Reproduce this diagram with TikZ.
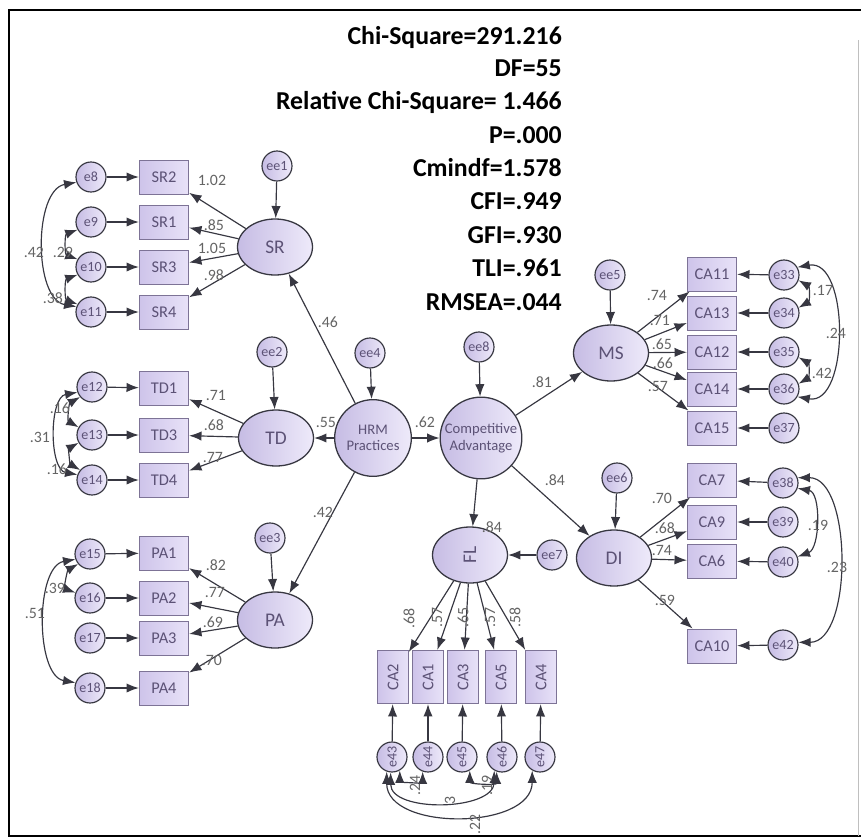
\documentclass[tikz,border=0pt]{standalone}
\usepackage{fontspec}
\setmainfont{Carlito}
\usepackage{tikz}
\usetikzlibrary{arrows.meta,shapes.geometric}

\definecolor{nodeL}{RGB}{198,188,228}
\definecolor{nodeR}{RGB}{238,234,250}
\definecolor{boxL}{RGB}{206,196,234}
\definecolor{boxR}{RGB}{232,226,248}
\definecolor{edgecol}{RGB}{55,55,65}
\definecolor{boxedge}{RGB}{125,115,150}
\definecolor{txtcol}{RGB}{92,82,118}
\definecolor{lblcol}{RGB}{100,100,100}

\tikzset{
  latent/.style={ellipse, draw=edgecol, line width=1.1pt, left color=nodeL, right color=nodeR,
    minimum width=2.25cm, minimum height=1.68cm, inner sep=0pt, text=txtcol,
    font=\fontsize{16.5}{17}\selectfont},
  bigc/.style={circle, draw=edgecol, line width=1.1pt, left color=nodeL, right color=nodeR,
    inner sep=0pt, align=center, text=txtcol, font=\fontsize{12.5}{14}\selectfont},
  errc/.style={circle, draw=edgecol, line width=1pt, left color=nodeL, right color=nodeR,
    minimum size=0.9cm, inner sep=0pt, text=txtcol, font=\fontsize{12}{12}\selectfont},
  item/.style={rectangle, draw=boxedge, line width=0.8pt, left color=boxL, right color=boxR,
    minimum width=1.48cm, minimum height=1.02cm, inner sep=0pt, text=txtcol,
    font=\fontsize{14}{14}\selectfont},
  load/.style={draw=edgecol, line width=1pt, -{Latex[length=0.37cm,width=0.28cm]}},
  cov/.style={draw=edgecol, line width=1pt, {Latex[length=0.37cm,width=0.28cm]}-{Latex[length=0.37cm,width=0.28cm]}},
  coef/.style={text=lblcol, inner sep=0pt, font=\fontsize{13.5}{14}\selectfont},
  statline/.style={anchor=east, inner sep=0pt, font=\bfseries\fontsize{22}{23}\selectfont}
}

\begin{document}
\begin{tikzpicture}[x=0.03cm,y=-0.03cm]
\useasboundingbox (0,0) rectangle (861,838);
\draw[line width=2.4pt] (861,10) -- (9,10) -- (9,836) -- (861,836);
\draw[line width=0.6pt, black!25] (858,40) -- (858,836);

% fit indices
\node[statline] (chi) at (562,37) {Chi-Square=291.216};
\node[statline] (df) at (562,68) {DF=55};
\node[statline] (rel) at (562,102) {Relative Chi-Square= 1.466};
\node[statline] (pval) at (562,135) {P=.000};
\node[statline] (cmin) at (562,168) {Cmindf=1.578};
\node[statline] (cfi) at (562,201) {CFI=.949};
\node[statline] (gfi) at (562,235) {GFI=.930};
\node[statline] (tli) at (562,268) {TLI=.961};
\node[statline] (rmsea) at (562,302) {RMSEA=.044};

% SR
\node[latent](SR) at (275,247) {SR};
\node[errc](ee1) at (277,166) {ee1};
\node[item](SR2) at (164,177) {SR2};
\node[item](SR1) at (164,222) {SR1};
\node[item](SR3) at (164,267) {SR3};
\node[item](SR4) at (164,312) {SR4};
\node[errc](e8) at (91,177) {e8};
\node[errc](e9) at (91,222) {e9};
\node[errc](e10) at (91,267) {e10};
\node[errc](e11) at (91,312) {e11};
\draw[load](ee1) to (SR);
\draw[load](SR) to (SR2);
\draw[load](SR) to (SR1);
\draw[load](SR) to (SR3);
\draw[load](SR) to (SR4);
\draw[load](e8) to (SR2);
\draw[load](e9) to (SR1);
\draw[load](e10) to (SR3);
\draw[load](e11) to (SR4);
\draw[cov](e8.200) to[out=190,in=170,looseness=0.9] (e11.160);
\draw[cov](e9.210) to[out=200,in=160,looseness=1.2] (e10.150);
\draw[cov](e10.210) to[out=200,in=160,looseness=1.2] (e11.150);
\node[coef](SR_l1) at (212,180) {1.02};
\node[coef](SR_l2) at (214,225) {.85};
\node[coef](SR_l3) at (212,248) {1.05};
\node[coef](SR_l4) at (214,275) {.98};
\node[coef](SR_c1) at (34,252) {.42};
\node[coef](SR_c2) at (63,252) {.29};
\node[coef](SR_c3) at (53,298) {.38};

% TD
\node[latent](TD) at (276,438) {TD};
\node[errc](ee2) at (272,352) {ee2};
\node[item](TD1) at (164,388) {TD1};
\node[item](TD3) at (164,435) {TD3};
\node[item](TD4) at (164,480) {TD4};
\node[errc](e12) at (92,387) {e12};
\node[errc](e13) at (92,435) {e13};
\node[errc](e14) at (92,480) {e14};
\draw[load](ee2) to (TD);
\draw[load](TD) to (TD1);
\draw[load](TD) to (TD3);
\draw[load](TD) to (TD4);
\draw[load](e12) to (TD1);
\draw[load](e13) to (TD3);
\draw[load](e14) to (TD4);
\draw[cov](e12.200) to[out=190,in=170,looseness=0.9] (e14.160);
\draw[cov](e12.220) to[out=210,in=150,looseness=1.1] (e13.150);
\draw[cov](e13.210) to[out=210,in=150,looseness=1.1] (e14.140);
\node[coef](TD_l1) at (216,395) {.71};
\node[coef](TD_l2) at (214,425) {.68};
\node[coef](TD_l3) at (213,457) {.77};
\node[coef](TD_c1) at (60,408) {.16};
\node[coef](TD_c2) at (40,437) {.31};
\node[coef](TD_c3) at (57,469) {.16};

% PA
\node[latent](PA) at (275,620) {PA};
\node[errc](ee3) at (270,538) {ee3};
\node[item](PA1) at (164,553) {PA1};
\node[item](PA2) at (164,598) {PA2};
\node[item](PA3) at (164,638) {PA3};
\node[item](PA4) at (164,688) {PA4};
\node[errc](e15) at (90,554) {e15};
\node[errc](e16) at (90,598) {e16};
\node[errc](e17) at (90,638) {e17};
\node[errc](e18) at (90,688) {e18};
\draw[load](ee3) to (PA);
\draw[load](PA) to (PA1);
\draw[load](PA) to (PA2);
\draw[load](PA) to (PA3);
\draw[load](PA) to (PA4);
\draw[load](e15) to (PA1);
\draw[load](e16) to (PA2);
\draw[load](e17) to (PA3);
\draw[load](e18) to (PA4);
\draw[cov](e15.200) to[out=190,in=170,looseness=0.85] (e18.160);
\draw[cov](e15.220) to[out=210,in=160,looseness=1.1] (e16.160);
\node[coef](PA_l1) at (216,565) {.82};
\node[coef](PA_l2) at (215,592) {.77};
\node[coef](PA_l3) at (213,622) {.69};
\node[coef](PA_l4) at (212,660) {.70};
\node[coef](PA_c1) at (55,588) {.39};
\node[coef](PA_c2) at (35,613) {.51};

% structural part
\node[bigc, minimum size=2.3cm](HRM) at (373,438) {HRM\\Practices};
\node[errc](ee4) at (370,353) {ee4};
\node[bigc, minimum size=2.45cm](CAdv) at (481,438) {Competitive\\Advantage};
\node[errc](ee8) at (479,347) {ee8};
\draw[load](ee4) to (HRM);
\draw[load](ee8) to (CAdv);
\draw[load](HRM) to (SR);
\draw[load](HRM) to (TD);
\draw[load](HRM) to (PA);
\draw[load](HRM) to (CAdv);
\node[coef](HRM_SR) at (328,322) {.46};
\node[coef](HRM_TD) at (326,422) {.55};
\node[coef](HRM_PA) at (323,512) {.42};
\node[coef](HRM_CA) at (425,422) {.62};

% MS
\node[latent](MS) at (611,353) {MS};
\node[errc](ee5) at (610,275) {ee5};
\node[item](CA11) at (712,274) {CA11};
\node[item](CA13) at (712,313) {CA13};
\node[item](CA12) at (712,352) {CA12};
\node[item](CA14) at (712,389) {CA14};
\node[item](CA15) at (712,428) {CA15};
\node[errc](e33) at (784,275) {e33};
\node[errc](e34) at (784,313) {e34};
\node[errc](e35) at (784,352) {e35};
\node[errc](e36) at (784,389) {e36};
\node[errc](e37) at (784,428) {e37};
\draw[load](CAdv) to (MS);
\draw[load](ee5) to (MS);
\draw[load](MS) to (CA11);
\draw[load](MS) to (CA13);
\draw[load](MS) to (CA12);
\draw[load](MS) to (CA14);
\draw[load](MS) to (CA15);
\draw[load](e33) to (CA11);
\draw[load](e34) to (CA13);
\draw[load](e35) to (CA12);
\draw[load](e36) to (CA14);
\draw[load](e37) to (CA15);
\draw[cov](e33.30) to[out=10,in=-10,looseness=1.05] (e36.-30);
\draw[cov](e33.-20) to[out=-30,in=30,looseness=1.2] (e34.20);
\draw[cov](e35.-20) to[out=-30,in=30,looseness=1.2] (e36.20);
\node[coef](CA_MS) at (542,382) {.81};
\node[coef](MS_l1) at (657,295) {.74};
\node[coef](MS_l2) at (660,320) {.71};
\node[coef](MS_l3) at (662,344) {.65};
\node[coef](MS_l4) at (663,363) {.66};
\node[coef](MS_l5) at (658,386) {.57};
\node[coef](MS_c1) at (823,290) {.17};
\node[coef](MS_c2) at (836,333) {.24};
\node[coef](MS_c3) at (822,373) {.42};

% DI
\node[latent](DI) at (614,558) {DI};
\node[errc](ee6) at (617,478) {ee6};
\node[item](CA7) at (712,480) {CA7};
\node[item](CA9) at (712,522) {CA9};
\node[item](CA6) at (712,561) {CA6};
\node[item](CA10) at (712,646) {CA10};
\node[errc](e38) at (783,483) {e38};
\node[errc](e39) at (783,522) {e39};
\node[errc](e40) at (783,562) {e40};
\node[errc](e42) at (783,645) {e42};
\draw[load](CAdv) to (DI);
\draw[load](ee6) to (DI);
\draw[load](DI) to (CA7);
\draw[load](DI) to (CA9);
\draw[load](DI) to (CA6);
\draw[load](DI) to (CA10);
\draw[load](e38) to (CA7);
\draw[load](e39) to (CA9);
\draw[load](e40) to (CA6);
\draw[load](e42) to (CA10);
\draw[cov](e38.-20) to[out=-10,in=20,looseness=0.9] (e40.20);
\draw[cov](e38.20) to[out=0,in=0,looseness=0.85] (e42.10);
\node[coef](CA_DI) at (555,480) {.84};
\node[coef](DI_l1) at (662,498) {.70};
\node[coef](DI_l2) at (665,528) {.68};
\node[coef](DI_l3) at (662,550) {.74};
\node[coef](DI_l4) at (665,600) {.59};
\node[coef](DI_c1) at (818,525) {.19};
\node[coef](DI_c2) at (837,567) {.23};

% FL
\node[latent, rotate=90, minimum width=1.68cm, minimum height=2.25cm](FL) at (470,555) {FL};
\node[errc](ee7) at (552,555) {ee7};
\node[item, rotate=90, minimum width=1.6cm, minimum height=0.92cm](CA2) at (393,677) {CA2};
\node[item, rotate=90, minimum width=1.6cm, minimum height=0.92cm](CA1) at (428,677) {CA1};
\node[item, rotate=90, minimum width=1.6cm, minimum height=0.92cm](CA3) at (463,677) {CA3};
\node[item, rotate=90, minimum width=1.6cm, minimum height=0.92cm](CA5) at (501,677) {CA5};
\node[item, rotate=90, minimum width=1.6cm, minimum height=0.92cm](CA4) at (541,677) {CA4};
\node[errc, rotate=90](e43) at (392,757) {e43};
\node[errc, rotate=90](e44) at (428,757) {e44};
\node[errc, rotate=90](e45) at (462,757) {e45};
\node[errc, rotate=90](e46) at (502,757) {e46};
\node[errc, rotate=90](e47) at (540,757) {e47};
\draw[load](CAdv) to (FL);
\draw[load](ee7) to (FL);
\draw[load](FL) to (CA2);
\draw[load](FL) to (CA1);
\draw[load](FL) to (CA3);
\draw[load](FL) to (CA5);
\draw[load](FL) to (CA4);
\draw[load](e43) to (CA2);
\draw[load](e44) to (CA1);
\draw[load](e45) to (CA3);
\draw[load](e46) to (CA5);
\draw[load](e47) to (CA4);
% rotated nodes: local angle a is canvas angle a+90
\draw[cov](e43.210) to[out=-90,in=-90,looseness=1.3] (e44.160);
\draw[cov](e45.210) to[out=-90,in=-90,looseness=1.3] (e46.160);
\draw[cov](e43.175) to[out=-90,in=-90,looseness=1] (e46.150);
\draw[cov](e43.160) to[out=-90,in=-90,looseness=1.05] (e47.150);
\node[coef](CA_FL) at (492,527) {.84};
\node[coef, rotate=90](FL_l1) at (409,618) {.68};
\node[coef, rotate=90](FL_l2) at (437,617) {.57};
\node[coef, rotate=90](FL_l3) at (463,617) {.65};
\node[coef, rotate=90](FL_l4) at (490,617) {.57};
\node[coef, rotate=90](FL_l5) at (515,617) {.58};
\node[coef, rotate=90](FL_c1) at (415,785) {.24};
\node[coef, rotate=90](FL_c2) at (487,785) {.19};
\node[coef, rotate=90](FL_c3) at (450,800) {3};
\node[coef, rotate=90](FL_c4) at (475,824) {.22};
\end{tikzpicture}
\end{document}
